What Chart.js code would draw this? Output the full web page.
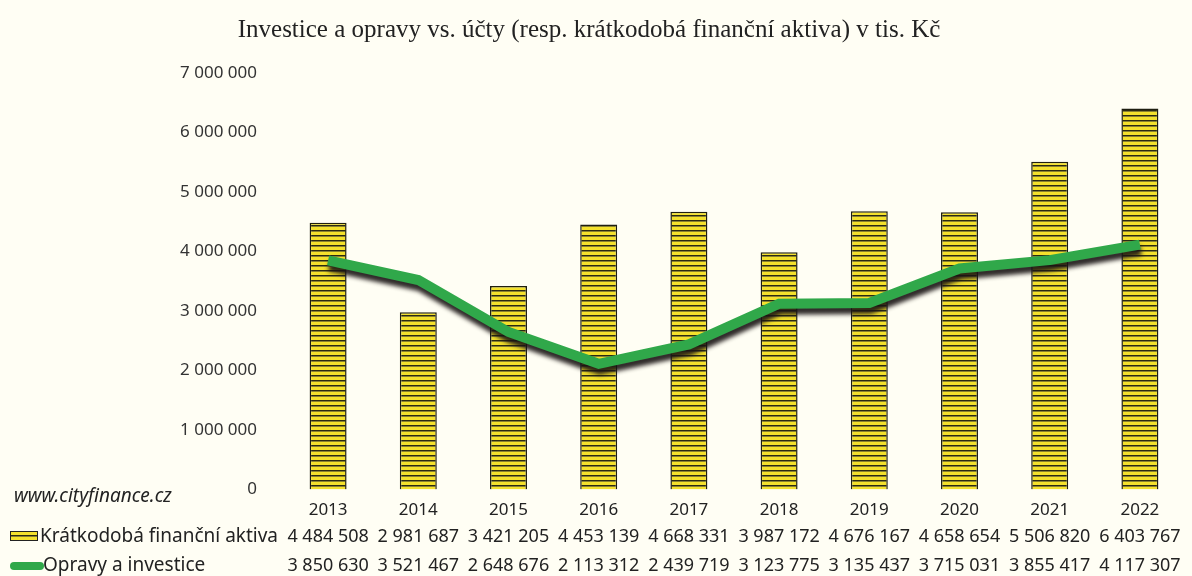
<!DOCTYPE html>
<html>
  <head>
    <title>Investice a opravy vs. účty</title>
    <style>
      body { margin: 0; background: #fffef4; }
      #wrap { width: 1192px; height: 576px; }
    </style>
    <script src="https://cdn.jsdelivr.net/npm/chart.js"></script>
  </head>
  <body>
    <div id="wrap"><canvas id="chart" width="1192" height="576"></canvas></div>
    <script>
      const years = ["2013", "2014", "2015", "2016", "2017", "2018", "2019", "2020", "2021", "2022"];
      const aktiva = [4484508, 2981687, 3421205, 4453139, 4668331, 3987172, 4676167, 4658654, 5506820, 6403767];
      const opravy = [3850630, 3521467, 2648676, 2113312, 2439719, 3123775, 3135437, 3715031, 3855417, 4117307];
      const seriesNames = ["Krátkodobá finanční aktiva", "Opravy a investice"];
      const title = "Investice a opravy vs. účty (resp. krátkodobá finanční aktiva) v tis. Kč";
      const source = "www.cityfinance.cz";

      const fmt = (v) => String(v).replace(/\B(?=(\d{3})+(?!\d))/g, " ");

      // striped yellow fill like the original
      function stripes() {
        const c = document.createElement("canvas");
        c.width = 4;
        c.height = 5;
        const g = c.getContext("2d");
        g.fillStyle = "#f4e12c";
        g.fillRect(0, 0, 4, 5);
        g.fillStyle = "#2b2a12";
        g.fillRect(0, 0, 4, 1);
        g.fillStyle = "#8a8230";
        g.fillRect(0, 1, 4, 1);
        return g.createPattern(c, "repeat");
      }
      const barFill = stripes();

      const lineShadow = {
        id: "lineShadow",
        beforeDatasetDraw(chart, args) {
          if (args.index !== 1) return;
          const ctx = chart.ctx;
          ctx.save();
          ctx.shadowColor = "rgba(25,20,20,0.9)";
          ctx.shadowOffsetX = 1;
          ctx.shadowOffsetY = 6;
          ctx.shadowBlur = 4;
        },
        afterDatasetDraw(chart, args) {
          if (args.index !== 1) return;
          chart.ctx.restore();
        },
      };

      const extras = {
        id: "extras",
        afterDraw(chart) {
          const ctx = chart.ctx;
          const x = chart.scales.x;
          ctx.save();
          ctx.fillStyle = "#222";
          ctx.textBaseline = "middle";

          ctx.textAlign = "center";
          ctx.font = "25px 'Liberation Serif'";
          ctx.fillText(title, 589, 30);

          ctx.textAlign = "left";
          ctx.font = "italic 19px 'Noto Sans'";
          ctx.fillText(source, 14, 497);

          // legend swatches
          ctx.fillStyle = barFill;
          ctx.fillRect(10, 531, 28, 10);
          ctx.strokeStyle = "#222";
          ctx.lineWidth = 1;
          ctx.strokeRect(10.5, 531.5, 27, 9);

          ctx.strokeStyle = "#30a84a";
          ctx.lineWidth = 8;
          ctx.lineCap = "round";
          ctx.beginPath();
          ctx.moveTo(14, 566);
          ctx.lineTo(40, 566);
          ctx.stroke();

          ctx.fillStyle = "#222";
          ctx.font = "19px 'Noto Sans'";
          ctx.fillText(seriesNames[0], 40, 537);
          ctx.fillText(seriesNames[1], 43, 566);

          ctx.textAlign = "center";
          ctx.font = "18px 'Noto Sans'";
          years.forEach((_, i) => {
            const px = x.getPixelForValue(i);
            ctx.fillText(fmt(aktiva[i]), px, 537);
            ctx.fillText(fmt(opravy[i]), px, 566);
          });
          ctx.restore();
        },
      };

      new Chart(document.getElementById("chart"), {
        data: {
          labels: years,
          datasets: [
            {
              type: "bar",
              label: seriesNames[0],
              data: aktiva,
              backgroundColor: barFill,
              borderColor: "#1e1e10",
              borderWidth: 1.5,
              categoryPercentage: 1,
              barPercentage: 0.41,
              order: 2,
            },
            {
              type: "line",
              label: seriesNames[1],
              data: opravy,
              borderColor: "#30a84a",
              borderWidth: 10,
              pointRadius: 0,
              tension: 0,
              order: 1,
            },
          ],
        },
        options: {
          responsive: false,
          animation: false,
          layout: { padding: { top: 73, left: 0, right: 7, bottom: 54 } },
          plugins: { legend: { display: false }, tooltip: { enabled: false } },
          scales: {
            x: {
              grid: { display: false },
              border: { display: false },
              ticks: { font: { family: "Noto Sans", size: 17 }, color: "#222", padding: 2 },
            },
            y: {
              min: 0,
              max: 7000000,
              grid: { display: false },
              border: { display: false },
              afterFit: (s) => { s.width = 283; },
              ticks: {
                stepSize: 1000000,
                padding: 18,
                color: "#333",
                font: { family: "Noto Sans", size: 17 },
                callback: (v) => fmt(v),
              },
            },
          },
        },
        plugins: [lineShadow, extras],
      });
    </script>
  </body>
</html>
